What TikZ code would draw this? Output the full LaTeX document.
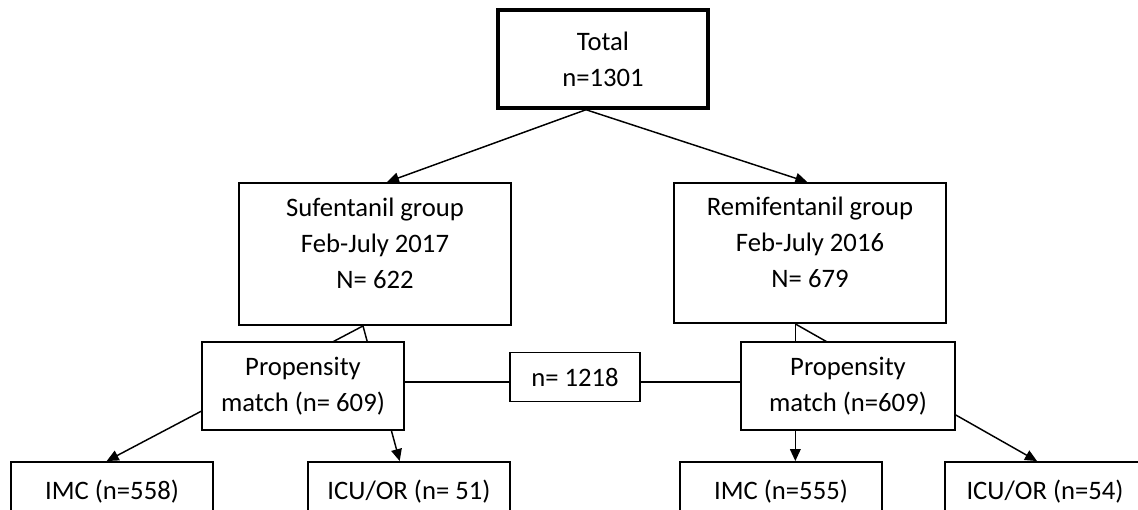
\documentclass[tikz,border=0pt]{standalone}
\usepackage{fontspec}
\setmainfont{Carlito}
\usepackage{tikz}
\usetikzlibrary{
	arrows.meta,
	positioning,
	backgrounds
}

\tikzset{
	box/.style={draw,line width=1.4pt,fill=white,align=center,inner sep=0pt},
	topbox/.style={box,line width=2.6pt},
	grpbox/.style={box,text depth=16pt},
	flow/.style={line width=1.1pt,-{Triangle[length=9pt,width=8pt]}},
	link/.style={line width=1.1pt}
}

\begin{document}
\begin{tikzpicture}[x=0.75pt,y=-0.75pt,
	every node/.append style={font=\fontsize{20pt}{27pt}\selectfont}]
				
				\clip (0,0) rectangle (1138,510);
				\useasboundingbox (0,0) rectangle (1138,510);
				
				% Total
				\node[topbox,minimum width=157.5pt,minimum height=73.5pt] (total) at (603,59) {Total\\n=1301};
				\coordinate (split) at ([xshift=-12.75pt]total.south);
				
				% Groups
				\node[grpbox,minimum width=204pt,minimum height=106.5pt] (suf) at (375,254) {Sufentanil group\\Feb-July 2017\\N= 622};
				\node[grpbox,minimum width=204pt,minimum height=105pt] (remi) at (810,253) {Remifentanil group\\Feb-July 2016\\N= 679};
				
				% Propensity match
				\node[box,minimum width=152pt,minimum height=66pt] (propL) at (303,386) {Propensity\\match (n= 609)};
				\node[box,minimum width=160pt,minimum height=66pt] (propR) at (848,386) {Propensity\\match (n=609)};
				\node[box,minimum width=97.5pt,minimum height=36.75pt] (pairs) at (575,377) {n= 1218};
				
				% Outcomes
				\node[box,minimum width=151.5pt,minimum height=45pt] (imcL) at (112,492) {IMC (n=558)};
				\node[box,minimum width=151.5pt,minimum height=45pt] (icuL) at (409,492) {ICU/OR (n= 51)};
				\node[box,minimum width=151.5pt,minimum height=45pt] (imcR) at (781,492) {IMC (n=555)};
				\node[box,minimum width=150pt,minimum height=45pt] (icuR) at (1045,492) {ICU/OR (n=54)};
				
				\coordinate (sufout) at ([xshift=-9pt]suf.south);
				\coordinate (remiout) at ([xshift=-11pt]remi.south);
				
				\draw[flow] (split) -- ([xshift=9pt]suf.north);
				\draw[flow] (split) -- ([xshift=-2pt]remi.north);
				
				\begin{scope}[on background layer]
					\draw[flow] (sufout) -- ([xshift=-4pt]imcL.north);
					\draw[flow] (sufout) -- ([xshift=-7pt]icuL.north);
					\draw[flow] (remiout) -- (imcR.north -| remiout);
					\draw[flow] (remiout) -- ([xshift=-6pt]icuR.north);
					\draw[link] (propL.east |- 0,382) -- (propR.west |- 0,382);
				\end{scope}
				
			\end{tikzpicture}
\end{document}
